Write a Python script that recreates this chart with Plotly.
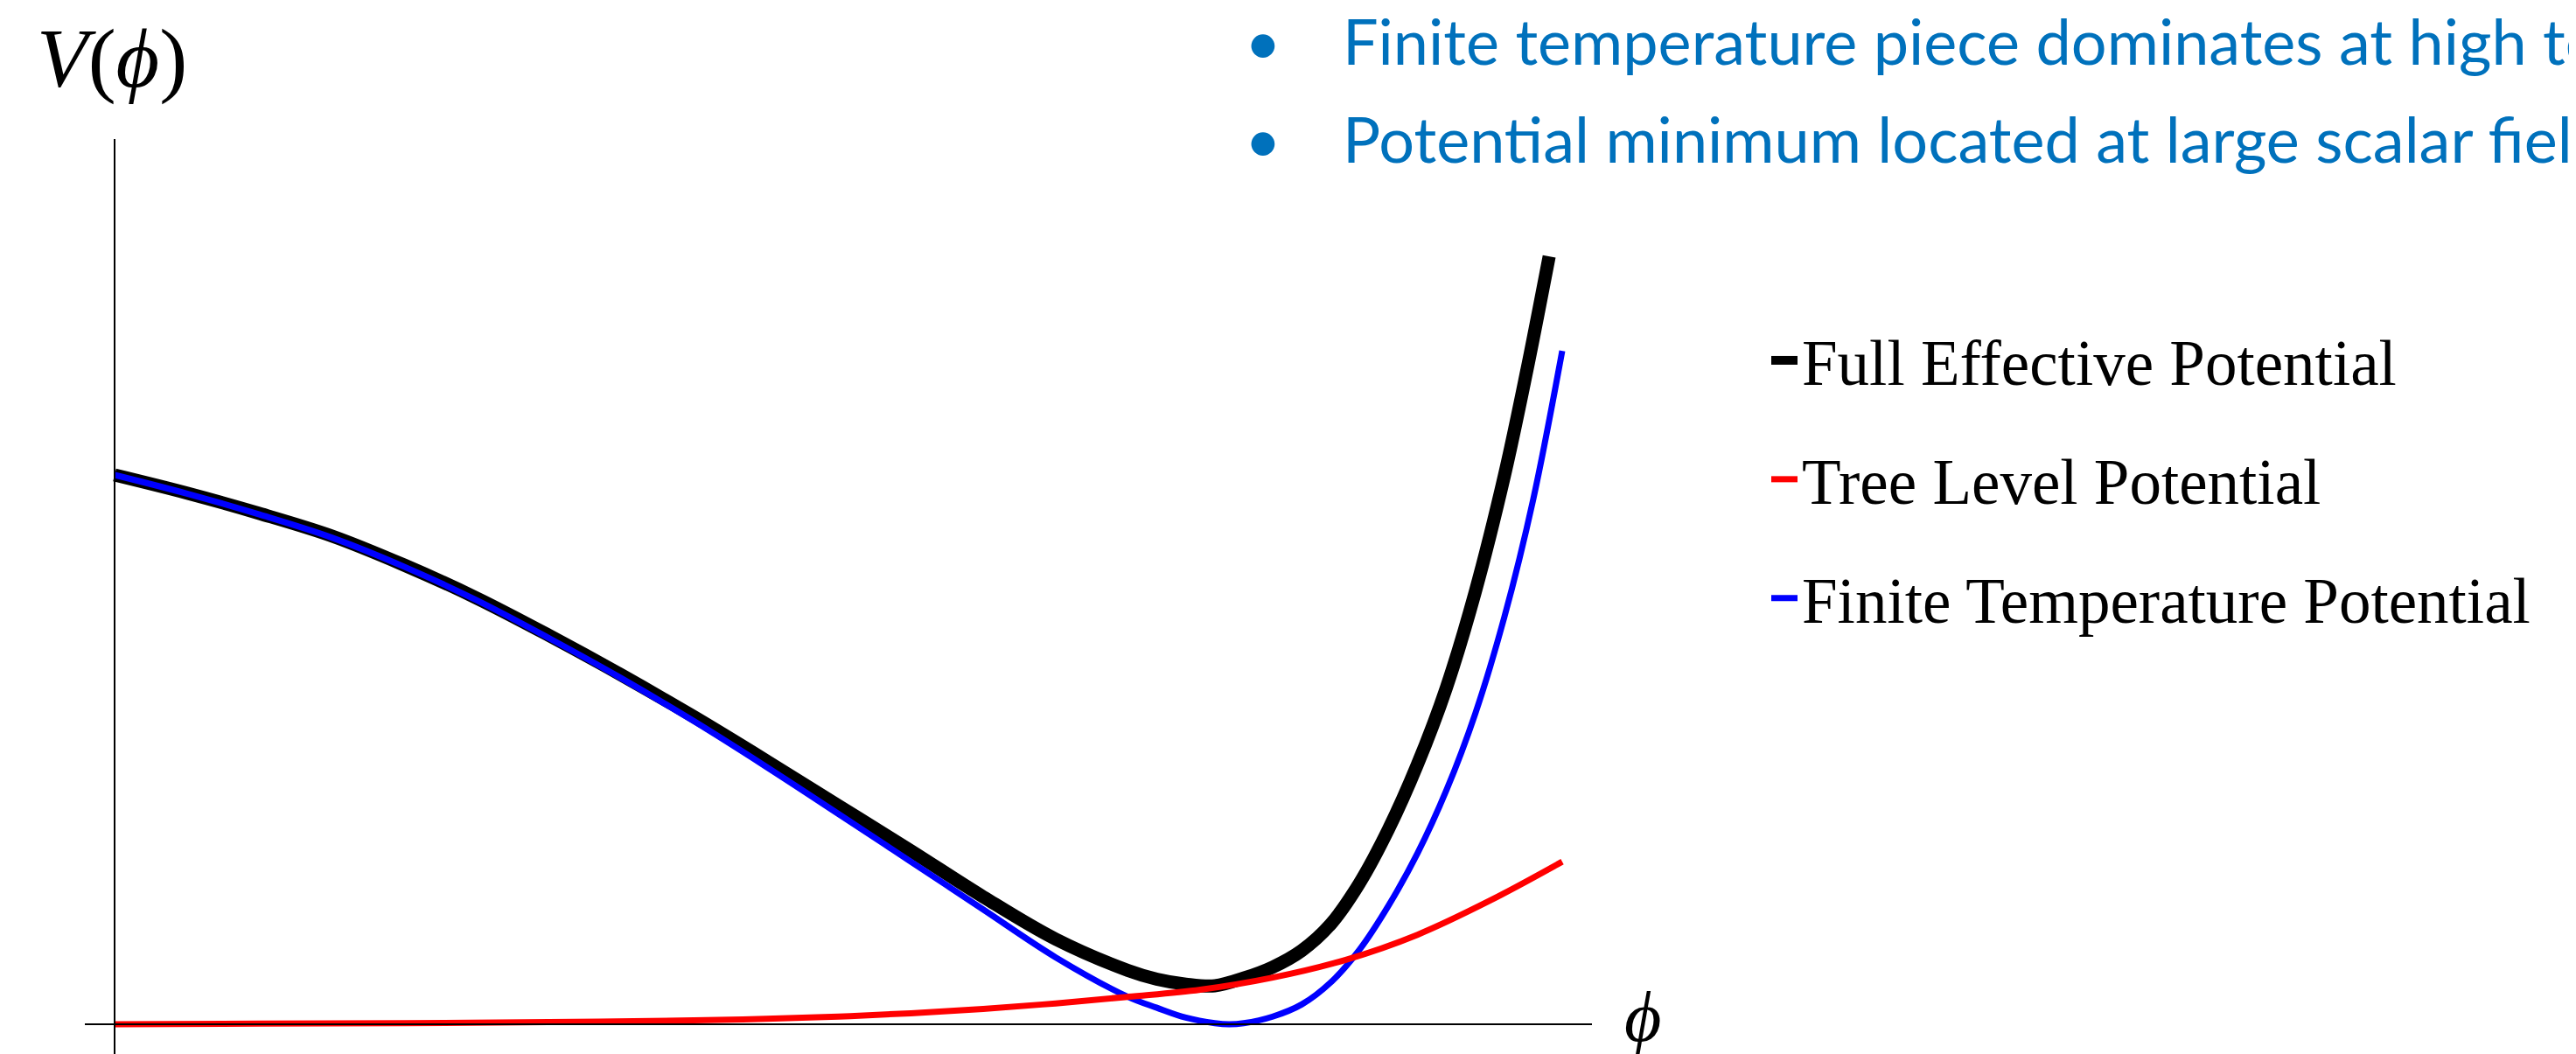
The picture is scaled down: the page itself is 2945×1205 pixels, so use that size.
import plotly.graph_objects as go

# ---------------- data (phi normalised 0..1, V in arbitrary units, V(0)=1) ----------------
phi_full = [0.00, 0.05, 0.10, 0.15, 0.20, 0.25, 0.30, 0.35, 0.40, 0.45, 0.50, 0.55, 0.60,
            0.65, 0.70, 0.72, 0.74, 0.76, 0.78, 0.80, 0.82, 0.84, 0.86, 0.88, 0.90, 0.92,
            0.94, 0.96, 0.975, 0.991]
v_full = [1.000, 0.967, 0.930, 0.889, 0.836, 0.776, 0.708, 0.636, 0.560, 0.480, 0.398,
          0.316, 0.232, 0.155, 0.098, 0.082, 0.073, 0.070, 0.084, 0.104, 0.134, 0.182,
          0.257, 0.355, 0.473, 0.613, 0.788, 0.998, 1.183, 1.398]

phi_tree = [0.00, 0.10, 0.20, 0.30, 0.40, 0.45, 0.50, 0.55, 0.60, 0.65, 0.70, 0.75, 0.80,
            0.85, 0.90, 0.95, 1.00]
v_tree = [0.000, 0.001, 0.002, 0.004, 0.007, 0.010, 0.014, 0.020, 0.028, 0.038, 0.050,
          0.063, 0.085, 0.117, 0.163, 0.225, 0.296]

phi_temp = [0.00, 0.05, 0.10, 0.15, 0.20, 0.25, 0.30, 0.35, 0.40, 0.45, 0.50, 0.55, 0.60,
            0.65, 0.70, 0.72, 0.74, 0.76, 0.77, 0.78, 0.80, 0.82, 0.84, 0.86, 0.88, 0.90,
            0.92, 0.94, 0.96, 0.98, 1.00]
v_temp = [1.000, 0.966, 0.928, 0.886, 0.833, 0.772, 0.703, 0.630, 0.552, 0.469, 0.383,
          0.296, 0.209, 0.122, 0.050, 0.030, 0.012, 0.002, 0.000, 0.002, 0.014, 0.036,
          0.076, 0.136, 0.216, 0.311, 0.426, 0.566, 0.741, 0.956, 1.226]

series_names = ["Full Effective Potential", "Tree Level Potential", "Finite Temperature Potential"]
bullets = ["Finite temperature piece dominates at high temperature",
           "Potential minimum located at large scalar field values"]

# ---------------- layout helpers ----------------
W, H = 2945, 1205
L, R, T, B = 89, W - 1812, 151, 0
PW, PH = W - L - R, H - T - B


def px(x):
    return (x - L) / PW


def py(y):
    return (H - B - y) / PH


fig = go.Figure()
fig.add_trace(go.Scatter(x=phi_full, y=v_full, mode="lines", name=series_names[0],
                         line=dict(color="#000000", width=15, shape="spline", smoothing=1.0),
                         legendrank=1, legendgroup="a"))
fig.add_trace(go.Scatter(x=phi_temp, y=v_temp, mode="lines", name=series_names[2],
                         line=dict(color="#0000ff", width=7, shape="spline", smoothing=1.0),
                         legendrank=3, legendgroup="c"))
fig.add_trace(go.Scatter(x=phi_tree, y=v_tree, mode="lines", name=series_names[1],
                         line=dict(color="#ff0000", width=7, shape="spline", smoothing=1.0),
                         legendrank=2, legendgroup="b"))

x_lo = -(123 - L) / 1655
x_hi = (1812 - 123) / 1655
y_lo = -(H - 1163) / 628
y_hi = (1163 - T) / 628

fig.update_xaxes(range=[x_lo, x_hi], showgrid=False, zeroline=False, showticklabels=False,
                 ticks="", showline=False)
fig.update_yaxes(range=[y_lo, y_hi], showgrid=False, zeroline=False, showticklabels=False,
                 ticks="", showline=False)

# axes drawn as lines through the origin
fig.add_shape(type="line", xref="paper", x0=0, x1=1, yref="y", y0=0, y1=0,
              line=dict(color="black", width=2), layer="above")
fig.add_shape(type="line", xref="x", x0=0, x1=0, yref="paper", y0=0, y1=1,
              line=dict(color="black", width=2), layer="above")

serif = "Liberation Serif, DejaVu Serif, serif"
sans = "Lato, Open Sans, sans-serif"
blue_txt = "#0071BC"

fig.add_annotation(text="<i>V</i>(<i>ϕ</i>)", xref="paper", yref="paper", x=px(120), y=py(58),
                   showarrow=False, xanchor="center", yanchor="middle",
                   font=dict(family=serif, size=96, color="black"))
fig.add_annotation(text="<i>ϕ</i>", xref="paper", yref="paper", x=px(1870), y=py(1154),
                   showarrow=False, xanchor="center", yanchor="middle",
                   font=dict(family=serif, size=82, color="black"))

for txt, yy in zip(bullets, [38, 150]):
    fig.add_annotation(text="•", xref="paper", yref="paper", x=px(1436), y=py(yy),
                       showarrow=False, xanchor="center", yanchor="middle",
                       font=dict(family=sans, size=72, color=blue_txt))
    fig.add_annotation(text=txt, xref="paper", yref="paper", x=px(1525), y=py(yy),
                       showarrow=False, xanchor="left", yanchor="middle",
                       font=dict(family=sans, size=72, color=blue_txt))

fig.update_layout(
    width=W, height=H,
    margin=dict(l=L, r=R, t=T, b=B, pad=0),
    paper_bgcolor="white", plot_bgcolor="white",
    showlegend=True,
    legend=dict(x=px(2012), y=py(350), xanchor="left", yanchor="top",
                font=dict(family=serif, size=73, color="black"),
                bgcolor="rgba(0,0,0,0)", tracegroupgap=38, itemwidth=30),
)

fig.write_html("out.html")
